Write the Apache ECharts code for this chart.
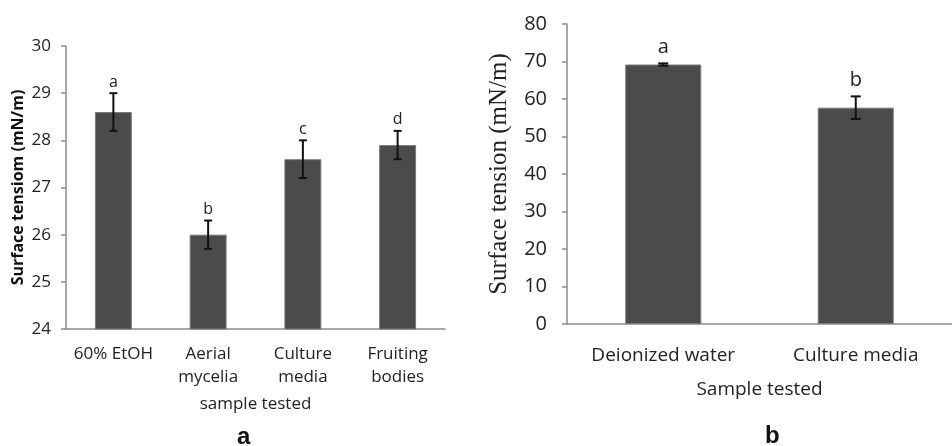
<!DOCTYPE html>
<html><head><meta charset="utf-8">
<script src="https://cdn.jsdelivr.net/npm/echarts@6/dist/echarts.min.js"></script>
<style>html,body{margin:0;padding:0;background:#fff}#c{width:952px;height:446px}</style>
</head><body><div id="c"></div>
<script>
const catsA = ['60% EtOH', 'Aerial\nmycelia', 'Culture\nmedia', 'Fruiting\nbodies'];
const valsA = [28.6, 26.0, 27.6, 27.9];
const errsA = [0.4, 0.3, 0.4, 0.3];
const lettersA = ['a', 'b', 'c', 'd'];
const ticksA = {min: 24, max: 30, interval: 1};

const catsB = ['Deionized water', 'Culture media'];
const valsB = [69.2, 57.7];
const errsB = [0.3, 3.0];
const lettersB = ['a', 'b'];
const ticksB = {min: 0, max: 80, interval: 10};

const FONT = 'Open Sans';
const axisCol = '#8c8c8c';

function errData(vals, errs, letters) {
  return vals.map((v, i) => [i, v, errs[i], letters[i]]);
}
function errRender(capHalf, fontSize, gap) {
  return function (params, api) {
    const x = api.value(0), v = api.value(1), e = api.value(2);
    const top = api.coord([x, v + e]);
    const bot = api.coord([x, v - e]);
    const st = {stroke: '#111', lineWidth: 2};
    return {type: 'group', children: [
      {type: 'line', shape: {x1: top[0], y1: top[1], x2: bot[0], y2: bot[1]}, style: st},
      {type: 'line', shape: {x1: top[0] - capHalf, y1: top[1], x2: top[0] + capHalf, y2: top[1]}, style: st},
      {type: 'line', shape: {x1: bot[0] - capHalf, y1: bot[1], x2: bot[0] + capHalf, y2: bot[1]}, style: st},
      {type: 'text', x: top[0], y: top[1] - gap, style: {text: api.value(3), fill: '#222', font: fontSize + 'px ' + FONT, textAlign: 'center', textVerticalAlign: 'bottom'}}
    ]};
  };
}

const chart = echarts.init(document.getElementById('c'), null, {renderer: 'canvas'});
chart.setOption({
  backgroundColor: '#fff',
  animation: false,
  grid: [
    {left: 66, top: 46, width: 379, height: 283},
    {left: 567, top: 24, width: 396, height: 300}
  ],
  xAxis: [
    {type: 'category', gridIndex: 0, data: catsA,
     name: 'sample tested', nameLocation: 'middle', nameGap: 67,
     nameTextStyle: {fontFamily: FONT, fontSize: 17, color: '#222'},
     axisLine: {lineStyle: {color: axisCol, width: 1.5}},
     axisTick: {length: 5, lineStyle: {color: axisCol, width: 1.5}},
     axisLabel: {fontFamily: FONT, fontSize: 17, color: '#222', margin: 14, lineHeight: 23, interval: 0}},
    {type: 'category', gridIndex: 1, data: catsB,
     name: 'Sample tested', nameLocation: 'middle', nameGap: 56,
     nameTextStyle: {fontFamily: FONT, fontSize: 19, color: '#222'},
     axisLine: {lineStyle: {color: axisCol, width: 1.5}},
     axisTick: {length: 5, lineStyle: {color: axisCol, width: 1.5}},
     axisLabel: {fontFamily: FONT, fontSize: 19, color: '#222', margin: 22, interval: 0}}
  ],
  yAxis: [
    {type: 'value', gridIndex: 0, min: ticksA.min, max: ticksA.max, interval: ticksA.interval,
     name: 'Surface tensiom (mN/m)', nameLocation: 'middle', nameGap: 40,
     nameTextStyle: {fontFamily: FONT, fontSize: 16, fontWeight: 'bold', color: '#111'},
     splitLine: {show: false},
     axisLine: {show: true, lineStyle: {color: axisCol, width: 1.5}},
     axisTick: {show: true, length: 5, lineStyle: {color: axisCol, width: 1.5}},
     axisLabel: {fontFamily: FONT, fontSize: 17, color: '#222', margin: 15}},
    {type: 'value', gridIndex: 1, min: ticksB.min, max: ticksB.max, interval: ticksB.interval,
     name: 'Surface tension (mN/m)', nameLocation: 'middle', nameGap: 55,
     nameTextStyle: {fontFamily: 'Liberation Serif', fontSize: 25, color: '#222'},
     splitLine: {show: false},
     axisLine: {show: true, lineStyle: {color: axisCol, width: 1.5}},
     axisTick: {show: true, length: 5, lineStyle: {color: axisCol, width: 1.5}},
     axisLabel: {fontFamily: FONT, fontSize: 20, color: '#222', margin: 20}}
  ],
  series: [
    {type: 'bar', xAxisIndex: 0, yAxisIndex: 0, data: valsA, barWidth: '39%',
     itemStyle: {color: '#4b4b4b', borderColor: '#7a7a7a', borderWidth: 1}},
    {type: 'custom', xAxisIndex: 0, yAxisIndex: 0, data: errData(valsA, errsA, lettersA),
     renderItem: errRender(4, 16, 3), z: 5},
    {type: 'bar', xAxisIndex: 1, yAxisIndex: 1, data: valsB, barWidth: '39.5%',
     itemStyle: {color: '#4b4b4b', borderColor: '#7a7a7a', borderWidth: 1}},
    {type: 'custom', xAxisIndex: 1, yAxisIndex: 1, data: errData(valsB, errsB, lettersB),
     renderItem: errRender(5, 20, 6), z: 5}
  ],
  graphic: [
    {type: 'text', left: 237, top: 425, style: {text: 'a', font: 'bold 24px Liberation Sans', fill: '#111'}},
    {type: 'text', left: 765, top: 424, style: {text: 'b', font: 'bold 24px Liberation Sans', fill: '#111'}}
  ]
});
</script></body></html>
